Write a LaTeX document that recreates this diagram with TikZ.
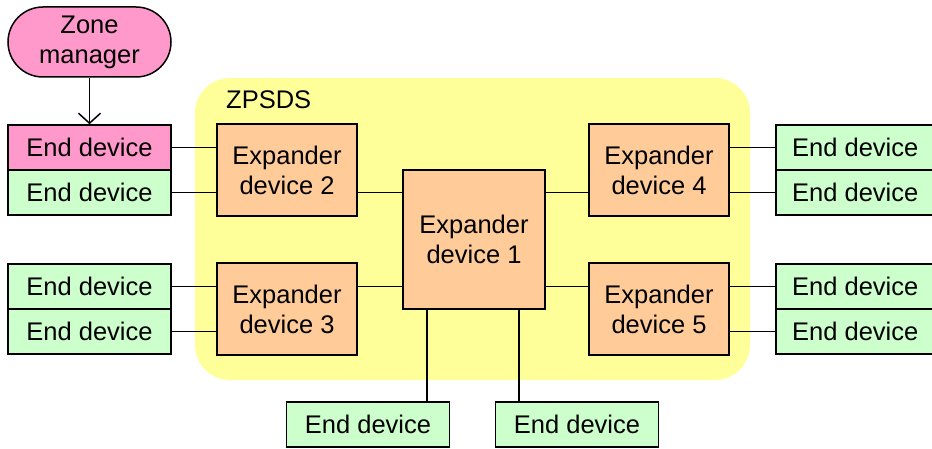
\documentclass[tikz,border=0pt]{standalone}
\usepackage{fontspec}
\setmainfont{Liberation Sans}
\usetikzlibrary{arrows.meta}
\definecolor{zonepink}{HTML}{FF99CC}
\definecolor{endgreen}{HTML}{CCFFCC}
\definecolor{exporange}{HTML}{FFCC99}
\definecolor{zpsdsyellow}{HTML}{FFFF99}
\tikzset{
    box/.style={draw, line width=1.5pt, inner sep=0pt, align=center,
        font=\fontsize{25.5}{30}\selectfont},
    enddev/.style={box, fill=endgreen, minimum width=163pt, minimum height=45pt},
    expander/.style={box, fill=exporange, minimum width=140pt, minimum height=92pt},
    link/.style={line width=1.5pt},
}

\begin{document}
\begin{tikzpicture}[x=1pt, y=-1pt]
    \useasboundingbox (0,0) rectangle (932,449);

    % zpsds area
    \fill[zpsdsyellow, rounded corners=35pt] (195,78) rectangle (750,380);
    \node[anchor=west, inner sep=0pt, font=\fontsize{25.5}{30}\selectfont] (zpsds) at (226,100) {ZPSDS};

    % zone manager
    \node[box, fill=zonepink, minimum width=163pt, minimum height=70pt, rounded corners=35pt] (zone) at (89.5,42) {\raisebox{-3pt}{Zone}\\\raisebox{-3pt}{manager}};

    % end devices, left
    \node[enddev, fill=zonepink] (edL1) at (89.5,147.5) {End device};
    \node[enddev] (edL2) at (89.5,192.5) {End device};
    \node[enddev] (edL3) at (89.5,286.5) {End device};
    \node[enddev] (edL4) at (89.5,331.5) {End device};

    % expanders
    \node[expander, minimum width=142pt, minimum height=139pt] (ex1) at (474,239.5) {Expander\\device 1};
    \node[expander] (ex2) at (287,170) {Expander\\device 2};
    \node[expander] (ex3) at (287,309) {Expander\\device 3};
    \node[expander] (ex4) at (659,170) {Expander\\device 4};
    \node[expander] (ex5) at (659,309) {Expander\\device 5};

    % end devices, right
    \node[enddev, anchor=west] (edR1) at (775,147.5) {\hspace*{-4pt}End device};
    \node[enddev, anchor=west] (edR2) at (775,192.5) {\hspace*{-4pt}End device};
    \node[enddev, anchor=west] (edR3) at (775,286.5) {\hspace*{-4pt}End device};
    \node[enddev, anchor=west] (edR4) at (775,331.5) {\hspace*{-4pt}End device};

    % end devices, bottom
    \node[enddev] (edB1) at (368,424.5) {End device};
    \node[enddev] (edB2) at (577,424.5) {End device};

    \draw[link, -{Straight Barb[length=10pt, width=22pt]}] (zone) -- (edL1);

    \draw[link] (edL1.east) -- (edL1.east -| ex2.west);
    \draw[link] (edL2.east) -- (edL2.east -| ex2.west);
    \draw[link] (edL3.east) -- (edL3.east -| ex3.west);
    \draw[link] (edL4.east) -- (edL4.east -| ex3.west);

    \draw[link] (ex2.east |- edL2.east) -- (ex1.west |- edL2.east);
    \draw[link] (ex3.east |- edL3.east) -- (ex1.west |- edL3.east);
    \draw[link] (ex4.west |- edL2.east) -- (ex1.east |- edL2.east);
    \draw[link] (ex5.west |- edL3.east) -- (ex1.east |- edL3.east);

    \draw[link] (edR1.west) -- (edR1.west -| ex4.east);
    \draw[link] (edR2.west) -- (edR2.west -| ex4.east);
    \draw[link] (edR3.west) -- (edR3.west -| ex5.east);
    \draw[link] (edR4.west) -- (edR4.west -| ex5.east);

    \draw[link] ([xshift=-47pt]ex1.south) -- ([xshift=-47pt]ex1.south |- edB1.north);
    \draw[link] ([xshift=45pt]ex1.south) -- ([xshift=45pt]ex1.south |- edB2.north);
\end{tikzpicture}
\end{document}
